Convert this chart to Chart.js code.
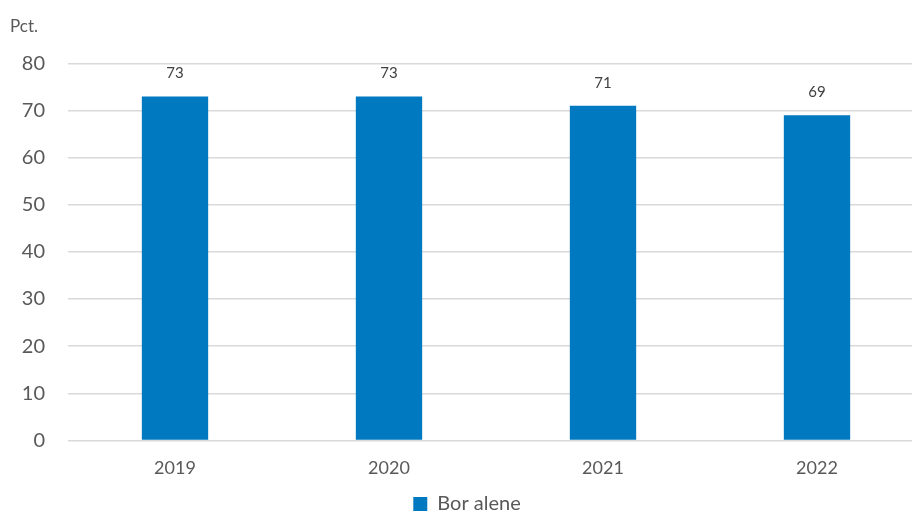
<!DOCTYPE html>
<html>
<head>
<meta charset="utf-8">
<script src="https://cdn.jsdelivr.net/npm/chart.js@4/dist/chart.umd.min.js"></script>
<style>
  html, body { margin: 0; padding: 0; background: #fff; overflow: hidden; }
  #wrap { position: relative; width: 956px; height: 512px; }
</style>
</head>
<body>
<div id="wrap"><canvas id="c"></canvas></div>
<script>
const years = ['2019', '2020', '2021', '2022'];
const borAlene = [73, 73, 71, 69];
const seriesName = 'Bor alene';
const unitLabel = 'Pct.';

const FONT = 'Lato, "Liberation Sans", sans-serif';
const BAR_COLOR = '#0079C1';
const TEXT = '#595959';

// Draws the value above each bar
const valueLabels = {
  id: 'valueLabels',
  afterDatasetsDraw(chart) {
    const ctx = chart.ctx;
    ctx.save();
    ctx.font = '15px ' + FONT;
    ctx.fillStyle = '#404040';
    ctx.textAlign = 'center';
    ctx.textBaseline = 'middle';
    chart.getDatasetMeta(0).data.forEach((bar, i) => {
      ctx.fillText(String(chart.data.datasets[0].data[i]), bar.x, bar.y - 23);
    });
    ctx.restore();
  }
};

new Chart(document.getElementById('c'), {
  type: 'bar',
  data: {
    labels: years,
    datasets: [{
      label: seriesName,
      data: borAlene,
      backgroundColor: BAR_COLOR,
      borderWidth: 0,
      categoryPercentage: 1,
      barPercentage: 0.31
    }]
  },
  options: {
    responsive: true,
    maintainAspectRatio: false,
    animation: false,
    layout: { padding: { left: 10, right: 32, top: 0, bottom: -12 } },
    plugins: {
      title: {
        display: true,
        text: unitLabel,
        align: 'start',
        color: TEXT,
        font: { family: FONT, size: 17, weight: 'normal' },
        padding: { top: 16, bottom: 27 }
      },
      legend: {
        position: 'bottom',
        labels: {
          color: TEXT,
          font: { family: FONT, size: 20 },
          boxWidth: 14,
          boxHeight: 14,
          padding: 0
        }
      },
      tooltip: { enabled: false }
    },
    scales: {
      x: {
        grid: { display: false },
        border: { display: false },
        ticks: { color: TEXT, font: { family: FONT, size: 18 }, padding: 9 },
        afterFit(scale) { scale.height += 6; }
      },
      y: {
        min: 0,
        max: 80,
        ticks: { stepSize: 10, color: TEXT, font: { family: FONT, size: 20 }, padding: 23 },
        grid: { color: '#d9d9d9', lineWidth: 1.5, drawTicks: false },
        border: { display: false },
        afterFit(scale) { scale.width = 58; }
      }
    }
  },
  plugins: [valueLabels]
});
</script>
</body>
</html>
